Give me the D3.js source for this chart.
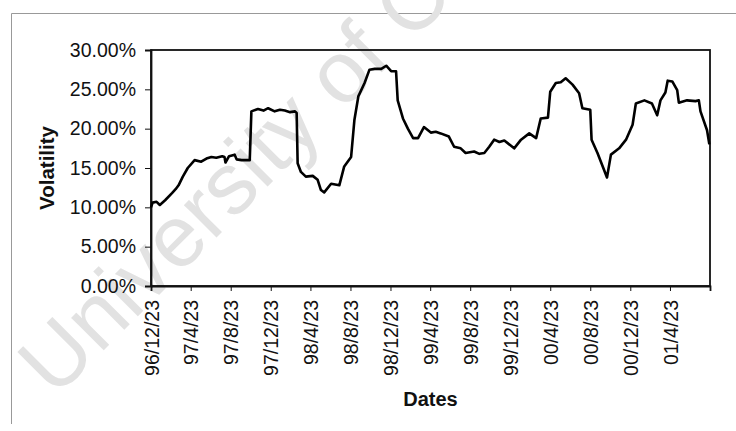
<!DOCTYPE html>
<html>
<head>
<meta charset="utf-8">
<script src="https://cdn.jsdelivr.net/npm/d3@7"></script>
<style>
  body { margin: 0; background: #fff; }
  svg { display: block; font-family: "Liberation Sans", Arial, sans-serif; }
</style>
</head>
<body>
<div id="chart"></div>
<script>
// volatility series (dates as yyyy-mm-dd, values in %)
var dates = [
  "1996-12-23","1996-12-28","1997-01-09","1997-01-19","1997-02-04","1997-02-25","1997-03-08","1997-03-17",
  "1997-03-30","1997-04-14","1997-05-05","1997-05-25","1997-06-10","1997-06-25","1997-07-10","1997-07-28",
  "1997-08-04","1997-08-07","1997-08-18","1997-09-04","1997-09-10","1997-09-25","1997-10-20","1997-10-25",
  "1997-11-14","1997-12-01","1997-12-15","1998-01-04","1998-01-20","1998-02-04","1998-02-20","1998-03-07",
  "1998-03-12","1998-03-15","1998-03-25","1998-04-09","1998-04-30","1998-05-15","1998-05-25","1998-06-04",
  "1998-06-25","1998-07-20","1998-08-04","1998-08-25","1998-09-04","1998-09-16","1998-10-05","1998-10-20",
  "1998-11-05","1998-11-25","1998-12-10","1998-12-25","1999-01-09","1999-01-14","1999-01-30","1999-02-14",
  "1999-03-02","1999-03-17","1999-04-04","1999-04-25","1999-05-10","1999-05-25","1999-06-19","1999-07-05",
  "1999-07-25","1999-08-09","1999-09-04","1999-09-20","1999-10-05","1999-10-20","1999-11-04","1999-11-20",
  "1999-12-05","2000-01-04","2000-01-25","2000-02-19","2000-03-11","2000-03-25","2000-04-16","2000-04-23",
  "2000-05-10","2000-05-25","2000-06-09","2000-06-30","2000-07-20","2000-07-30","2000-08-23","2000-08-27",
  "2000-09-14","2000-10-13","2000-10-25","2000-11-19","2000-12-10","2000-12-30","2001-01-09","2001-02-04",
  "2001-02-27","2001-03-15","2001-03-25","2001-04-09","2001-04-16","2001-04-30","2001-05-15","2001-05-20",
  "2001-06-14","2001-07-10","2001-07-20","2001-07-25","2001-08-14","2001-08-21"
];
var vols = [
  10.0, 10.6, 10.7, 10.3, 10.9, 11.8, 12.3, 12.8,
  13.9, 15.0, 16.0, 15.8, 16.2, 16.4, 16.3, 16.5,
  16.4, 15.7, 16.5, 16.7, 16.1, 16.0, 16.0, 22.2,
  22.5, 22.3, 22.6, 22.2, 22.4, 22.3, 22.1, 22.2,
  22.0, 15.6, 14.5, 13.9, 14.0, 13.5, 12.2, 11.9,
  13.0, 12.8, 15.2, 16.4, 21.1, 24.1, 25.8, 27.5,
  27.6, 27.6, 28.0, 27.3, 27.3, 23.6, 21.3, 20.0,
  18.8, 18.8, 20.2, 19.5, 19.6, 19.4, 19.0, 17.7,
  17.5, 16.9, 17.1, 16.8, 16.9, 17.7, 18.6, 18.3,
  18.5, 17.5, 18.6, 19.4, 18.8, 21.3, 21.4, 24.7,
  25.8, 25.9, 26.4, 25.6, 24.5, 22.6, 22.4, 18.6,
  16.9, 13.8, 16.7, 17.5, 18.6, 20.5, 23.2, 23.6,
  23.2, 21.7, 23.6, 24.6, 26.1, 26.0, 24.9, 23.3,
  23.6, 23.5, 23.6, 22.2, 19.8, 18.0
];
var xDomain = ["96/12/23", "01/8/23"];
var tickLabels = ["96/12/23","97/4/23","97/8/23","97/12/23","98/4/23","98/8/23","98/12/23",
                  "99/4/23","99/8/23","99/12/23","00/4/23","00/8/23","00/12/23","01/4/23"];
var yTicks = [0, 5, 10, 15, 20, 25, 30];

var width = 736, height = 431;
var margin = {top: 50, right: 26, bottom: 145, left: 151};

var parseISO = d3.timeParse("%Y-%m-%d");
var parseTick = d3.timeParse("%y/%m/%d");

var data = dates.map(function(d, i) { return {date: parseISO(d), v: vols[i]}; });

var svg = d3.select("#chart").append("svg")
  .attr("width", width)
  .attr("height", height);

svg.append("rect").attr("width", width).attr("height", height).attr("fill", "#fff");

// scan frame around the chart
svg.append("path")
  .attr("d", "M11.5,424 V13.5 H736")
  .attr("fill", "none")
  .attr("stroke", "#999")
  .attr("stroke-width", 1);

// watermark
svg.append("text")
  .attr("transform", "translate(55,399) rotate(-45)")
  .attr("font-size", 87)
  .attr("fill", "#e2e2e2")
  .text("University of C");

var x = d3.scaleTime()
  .domain(xDomain.map(parseTick))
  .range([margin.left, width - margin.right]);

var y = d3.scaleLinear()
  .domain([0, 30])
  .range([height - margin.bottom, margin.top]);

// plot box
svg.append("rect")
  .attr("x", margin.left)
  .attr("y", margin.top)
  .attr("width", width - margin.right - margin.left)
  .attr("height", height - margin.bottom - margin.top)
  .attr("fill", "none")
  .attr("stroke", "#111")
  .attr("stroke-width", 1.8);

// y axis
var yAxis = svg.append("g")
  .attr("transform", "translate(" + margin.left + ",0)")
  .call(d3.axisLeft(y).tickValues(yTicks).tickSize(6).tickPadding(9)
    .tickFormat(function(d) { return d.toFixed(2) + "%"; }));
yAxis.select(".domain").attr("stroke", "#111").attr("stroke-width", 1.8);
yAxis.selectAll(".tick line").attr("stroke", "#111").attr("stroke-width", 1);
yAxis.selectAll(".tick text")
  .attr("font-size", 19.5)
  .attr("fill", "#111")
  .attr("font-family", "Liberation Sans, Arial, sans-serif");

// x axis
var xAxis = svg.append("g")
  .attr("transform", "translate(0," + (height - margin.bottom) + ")")
  .call(d3.axisBottom(x).tickValues(tickLabels.map(parseTick)).tickSize(5)
    .tickFormat(function(d, i) { return tickLabels[i]; }));
xAxis.select(".domain").attr("stroke", "#111").attr("stroke-width", 1.8);
xAxis.selectAll(".tick line").attr("stroke", "#111").attr("stroke-width", 1);
xAxis.selectAll(".tick text")
  .attr("font-size", 19.5)
  .attr("fill", "#111")
  .attr("font-family", "Liberation Sans, Arial, sans-serif")
  .attr("text-anchor", "end")
  .attr("transform", "rotate(-90)")
  .attr("x", -14)
  .attr("y", 0)
  .attr("dy", "0.36em");

// the series
var line = d3.line()
  .x(function(d) { return x(d.date); })
  .y(function(d) { return y(d.v); });

svg.append("path")
  .datum(data)
  .attr("d", line)
  .attr("fill", "none")
  .attr("stroke", "#000")
  .attr("stroke-width", 2.6)
  .attr("stroke-linejoin", "round");

// axis titles
svg.append("text")
  .attr("transform", "translate(54," + (margin.top + (height - margin.bottom - margin.top) / 2) + ") rotate(-90)")
  .attr("text-anchor", "middle")
  .attr("font-size", 20.5)
  .attr("font-weight", "bold")
  .attr("fill", "#111")
  .text("Volatility");

svg.append("text")
  .attr("x", (margin.left + width - margin.right) / 2)
  .attr("y", 406)
  .attr("text-anchor", "middle")
  .attr("font-size", 20)
  .attr("font-weight", "bold")
  .attr("fill", "#111")
  .text("Dates");
</script>
</body>
</html>
